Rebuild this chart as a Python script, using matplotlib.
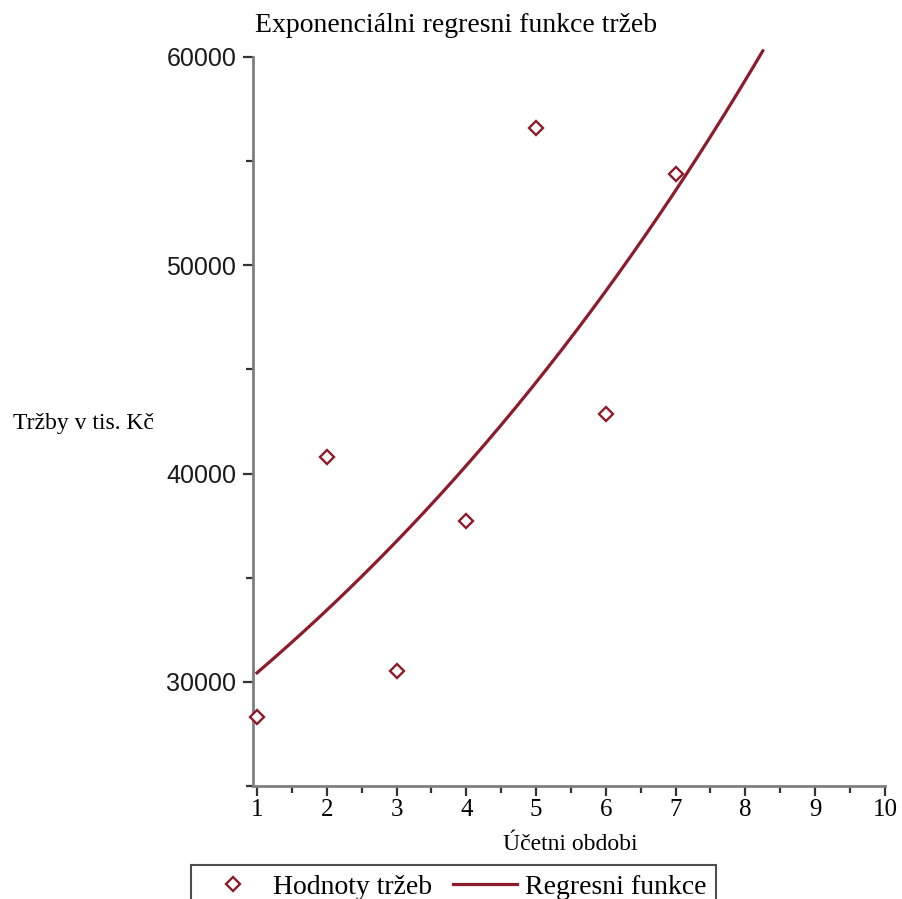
import numpy as np
import matplotlib
matplotlib.use("Agg")
import matplotlib.pyplot as plt
from matplotlib.ticker import MultipleLocator

# Data
periods = [1, 2, 3, 4, 5, 6, 7]
revenues = [28315, 40785, 30530, 37700, 56587, 42837, 54360]
# Regression curve y = a * b**x (parameters)
reg_a = 27694
reg_b = 1.0989
reg_x_range = (1.0, 8.25)

title = "Exponenciálni regresni funkce tržeb"
xlabel = "Účetni obdobi"
ylabel = "Tržby v tis. Kč"
legend_points = "Hodnoty tržeb"
legend_curve = "Regresni funkce"

color = "#8c1b2b"
spine_col = "#7f7f7f"
serif = ["Liberation Serif", "DejaVu Serif"]
sans = ["Liberation Sans", "DejaVu Sans"]

fig = plt.figure(figsize=(9.03, 8.99), dpi=100)
ax = fig.add_axes([253 / 903, 1 - 786 / 899, (884 - 253) / 903 + 0.001, (786 - 57) / 899])

xs = np.linspace(reg_x_range[0], reg_x_range[1], 300)
line, = ax.plot(xs, reg_a * reg_b ** xs, color=color, lw=2.3, clip_on=False, zorder=2)
pts, = ax.plot(periods, revenues, linestyle="none", marker="D", markersize=7,
               markerfacecolor="white", markeredgecolor=color, markeredgewidth=1.7,
               clip_on=False, zorder=3)

x0 = 1 - 4 / 69.7
ax.set_xlim(x0, 10)
ax.set_ylim(25000, 60000)

for s in ["top", "right"]:
    ax.spines[s].set_visible(False)
for s in ["left", "bottom"]:
    ax.spines[s].set_color(spine_col)
    ax.spines[s].set_linewidth(2.0)

ax.set_xticks(range(1, 11))
ax.xaxis.set_minor_locator(MultipleLocator(0.5))
ax.set_yticks([30000, 40000, 50000, 60000])
ax.yaxis.set_minor_locator(MultipleLocator(5000))
ax.tick_params(axis="both", which="major", direction="out", length=7, width=1.6, color="#333333")
ax.tick_params(axis="both", which="minor", direction="out", length=5, width=1.6, color="#333333")
ax.tick_params(axis="x", which="major", pad=2)
ax.tick_params(axis="y", which="major", pad=5)

for lab in ax.get_xticklabels():
    lab.set_fontfamily(serif)
    lab.set_fontsize(18)
for lab in ax.get_yticklabels():
    lab.set_fontfamily(sans)
    lab.set_fontsize(18)
    lab.set_color("#1a1a1a")

fig.text(456 / 903, 1 - 25 / 899, title, ha="center", va="center",
         fontfamily=serif, fontsize=20)
fig.text(570 / 903, 1 - 845 / 899, xlabel, ha="center", va="center",
         fontfamily=serif, fontsize=17)
fig.text(13 / 903, 1 - 423 / 899, ylabel, ha="left", va="center",
         fontfamily=serif, fontsize=17)

leg = fig.legend([pts, line], [legend_points, legend_curve],
                 loc="upper left", bbox_to_anchor=(191 / 903, 1 - 865 / 899),
                 ncol=2, frameon=True, fancybox=False, borderaxespad=0,
                 prop={"family": serif, "size": 20}, handlelength=2.3,
                 columnspacing=0.75, handletextpad=0.3, borderpad=0.35)
leg.get_frame().set_edgecolor("#222222")
leg.get_frame().set_linewidth(1.5)

fig.savefig("out.png", dpi=100)
